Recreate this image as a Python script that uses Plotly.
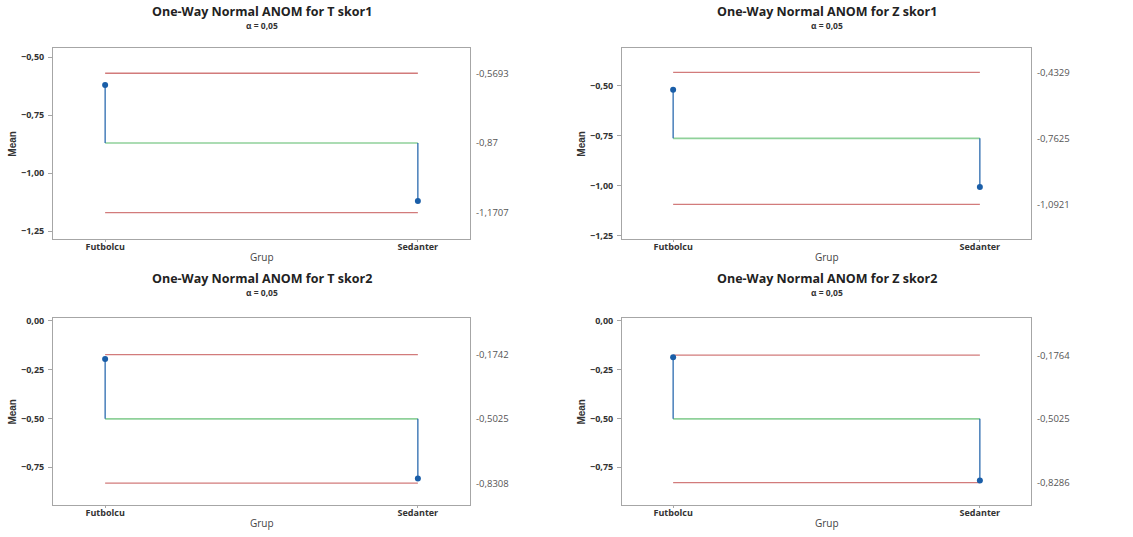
import plotly.graph_objects as go

# Groups and ANOM results for each response
groups = ["Futbolcu", "Sedanter"]
responses = ["T skor1", "Z skor1", "T skor2", "Z skor2"]
group_means = {
    "T skor1": [-0.620, -1.120],
    "Z skor1": [-0.519, -1.006],
    "T skor2": [-0.197, -0.808],
    "Z skor2": [-0.187, -0.818],
}
center_line = {"T skor1": -0.87, "Z skor1": -0.7625, "T skor2": -0.5025, "Z skor2": -0.5025}
upper_limit = {"T skor1": -0.5693, "Z skor1": -0.4329, "T skor2": -0.1742, "Z skor2": -0.1764}
lower_limit = {"T skor1": -1.1707, "Z skor1": -1.0921, "T skor2": -0.8308, "Z skor2": -0.8286}
y_ticks = {
    "T skor1": [-0.50, -0.75, -1.00, -1.25],
    "Z skor1": [-0.50, -0.75, -1.00, -1.25],
    "T skor2": [0.00, -0.25, -0.50, -0.75],
    "Z skor2": [0.00, -0.25, -0.50, -0.75],
}
y_ranges = {
    "T skor1": [-1.284, -0.462],
    "Z skor1": [-1.265, -0.313],
    "T skor2": [-0.945, 0.014],
    "Z skor2": [-0.945, 0.014],
}
alpha_text = "α = 0,05"

W, H = 1133, 537
# panel boxes in pixels: (left, right, top, bottom) and title/subtitle rows
boxes = [(53, 470, 45, 238), (622, 1031, 45, 238), (53, 470, 318, 508), (622, 1031, 318, 508)]
title_rows = [(8, 22), (8, 22), (278, 292), (278, 292)]

RED = "#d27b7b"
GREEN = "#8fd19a"
BLUE = "#1a5ea8"
FRAME = "#a6a6a6"
FONT = "Open Sans"

fig = go.Figure()
annotations = []


def fmt(v):
    return f"{v:g}".replace(".", ",")


for i, (resp, (l, r, t, b), (ty, sy)) in enumerate(zip(responses, boxes, title_rows), start=1):
    xa = "x" if i == 1 else f"x{i}"
    ya = "y" if i == 1 else f"y{i}"
    c = center_line[resp]
    for lim in (upper_limit[resp], lower_limit[resp]):
        fig.add_trace(go.Scatter(x=groups, y=[lim, lim], mode="lines",
                                 line=dict(color=RED, width=1.3), xaxis=xa, yaxis=ya,
                                 showlegend=False, hoverinfo="skip"))
    fig.add_trace(go.Scatter(x=groups, y=[c, c], mode="lines",
                             line=dict(color=GREEN, width=1.6), xaxis=xa, yaxis=ya,
                             showlegend=False, hoverinfo="skip"))
    for g, m in zip(groups, group_means[resp]):
        fig.add_trace(go.Scatter(x=[g, g], y=[c, m], mode="lines",
                                 line=dict(color=BLUE, width=1.2), xaxis=xa, yaxis=ya,
                                 showlegend=False, hoverinfo="skip"))
    fig.add_trace(go.Scatter(x=groups, y=group_means[resp], mode="markers",
                             marker=dict(color=BLUE, size=6), xaxis=xa, yaxis=ya,
                             showlegend=False))

    xd = [l / W, r / W]
    yd = [1 - b / H, 1 - t / H]
    axis_common = dict(showgrid=False, zeroline=False, showline=True, linecolor=FRAME,
                       linewidth=1, mirror=True, ticks="outside", tickcolor=FRAME)
    fig.update_layout(**{
        ("xaxis" if i == 1 else f"xaxis{i}"): dict(
            domain=xd, anchor=ya, type="category", categoryorder="array",
            categoryarray=groups, range=[-0.1667, 1.1667], ticklen=2,
            ticklabelstandoff=-3,
            tickfont=dict(family=FONT, size=9, color="#333333", weight="bold"),
            **axis_common),
        ("yaxis" if i == 1 else f"yaxis{i}"): dict(
            domain=yd, anchor=xa, range=y_ranges[resp], tickvals=y_ticks[resp],
            tickformat=".2f", ticklen=4, ticklabelstandoff=2,
            tickfont=dict(family=FONT, size=9, color="#333333", weight="bold"),
            **axis_common),
    })

    cx = (l + r) / 2 / W
    annotations.append(dict(text=f"<b>One-Way Normal ANOM for {resp}</b>", x=cx,
                            y=1 - ty / H, xref="paper", yref="paper",
                            xanchor="center", yanchor="middle", showarrow=False,
                            font=dict(family=FONT, size=12.5, color="#222222")))
    annotations.append(dict(text=f"<b>{alpha_text}</b>", x=cx, y=1 - sy / H,
                            xref="paper", yref="paper", xanchor="center",
                            yanchor="middle", showarrow=False,
                            font=dict(family=FONT, size=8.5, color="#333333")))
    annotations.append(dict(text="Grup", x=cx, y=1 - (b + 18) / H, xref="paper",
                            yref="paper", xanchor="center", yanchor="middle",
                            showarrow=False,
                            font=dict(family=FONT, size=10, color="#444444")))
    annotations.append(dict(text="<b>Mean</b>", x=(l - 40) / W, y=(yd[0] + yd[1]) / 2,
                            xref="paper", yref="paper", xanchor="center",
                            yanchor="middle", textangle=-90, showarrow=False,
                            font=dict(family="Liberation Sans Narrow, Liberation Sans",
                                      size=10, color="#333333")))
    for v in (upper_limit[resp], c, lower_limit[resp]):
        annotations.append(dict(text=fmt(v), x=(r + 4) / W, y=v, xref="paper", yref=ya,
                                xanchor="left", yanchor="middle", showarrow=False,
                                font=dict(family=FONT, size=9.5, color="#555555")))

fig.update_layout(
    width=W, height=H, margin=dict(l=0, r=0, t=0, b=0),
    paper_bgcolor="white", plot_bgcolor="white", separators=",.",
    annotations=annotations, showlegend=False,
)

fig.write_html("out.html")
